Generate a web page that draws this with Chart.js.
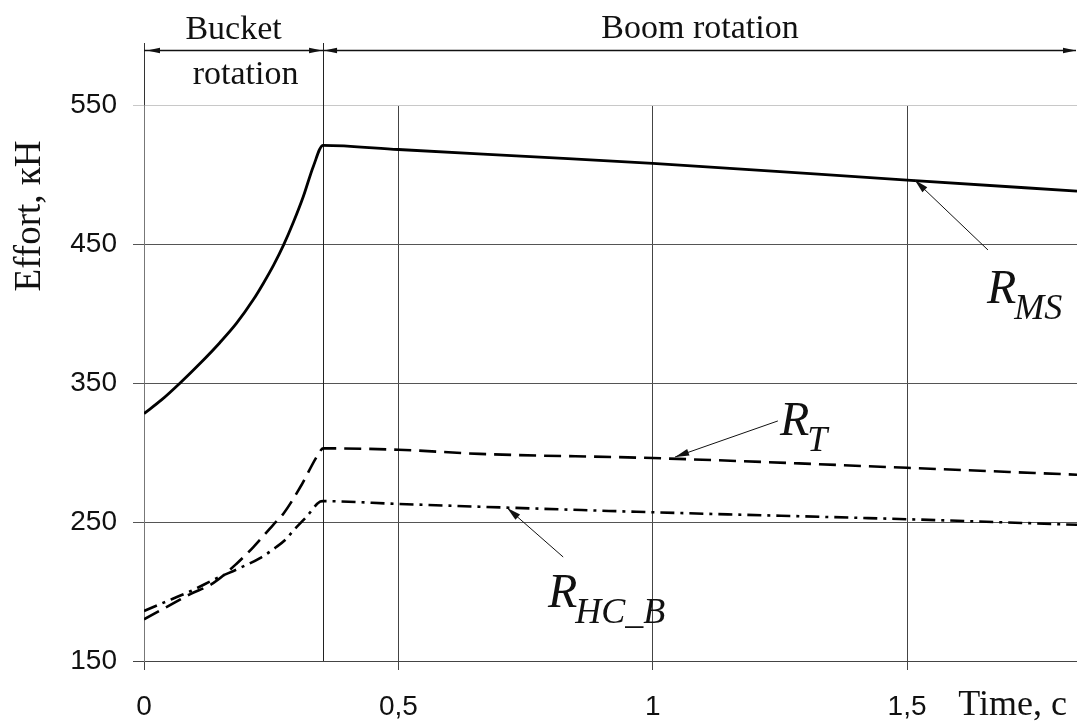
<!DOCTYPE html>
<html>
<head>
<meta charset="utf-8">
<script src="https://cdn.jsdelivr.net/npm/chart.js@4.4.1/dist/chart.umd.min.js"></script>
<style>
  html, body { margin: 0; padding: 0; background: #fff; }
  #wrap { width: 1077px; height: 725px; }
</style>
</head>
<body>
<div id="wrap"><canvas id="chart" width="1077" height="725"></canvas></div>
<script>
// Main support reaction R_MS, kN
const timeMS   = [0, 0.035, 0.071, 0.11, 0.149, 0.182, 0.215, 0.235, 0.255, 0.274, 0.294, 0.313, 0.333, 0.352, 0.5, 0.75, 1.0, 1.25, 1.5, 1.834];
const effortMS = [328, 338, 350, 364, 379, 393, 410, 422, 435, 449, 466, 484, 506, 521, 518, 513, 508, 502, 496, 488];

// Traction force R_T, kN
const timeT   = [0, 0.045, 0.09, 0.136, 0.182, 0.215, 0.254, 0.274, 0.307, 0.343, 0.352, 0.5, 0.66, 1.0, 1.5, 1.834];
const effortT = [180, 189, 198, 206, 220, 232, 248, 256, 275, 299, 303, 302, 299, 296, 289, 284];

// Bucket hydraulic cylinder force R_HC_B, kN
const timeHC   = [0, 0.045, 0.09, 0.143, 0.189, 0.228, 0.26, 0.28, 0.294, 0.32, 0.346, 0.352, 0.5, 0.66, 1.0, 1.5, 1.834];
const effortHC = [186, 193, 200, 209.5, 217, 224, 232, 238, 244, 254, 264.6, 265, 263, 261, 257, 252, 248];

// Axis ticks and phases
const xTickValues = [0, 0.5, 1, 1.5];
const yTickValues = [150, 250, 350, 450, 550];
const timeMax = 1.834;
const bucketEnd = 0.352;
const phaseBucket = ['Bucket', 'rotation'];
const phaseBoom = 'Boom rotation';
const yTitle = 'Effort, кН';
const xTitle = 'Time, c';

// Callouts: label main letter + subscript, arrow tip and tail in data units
const callouts = [
  { main: 'R', sub: 'MS',   tip: [1.515, 496.0], tail: [1.659, 445.7], at: [1.657, 407.6] },
  { main: 'R', sub: 'T',    tip: [1.044, 296.8], tail: [1.246, 322.7], at: [1.250, 312.6] },
  { main: 'R', sub: 'HC_B', tip: [0.714, 260.1], tail: [0.824, 224.8], at: [0.794, 188.8] }
];

const toXY = (xs, ys) => xs.map((x, i) => ({ x: x, y: ys[i] }));

function arrowHead(ctx, x1, y1, x2, y2, len, half) {
  const a = Math.atan2(y2 - y1, x2 - x1);
  ctx.beginPath();
  ctx.moveTo(x2, y2);
  ctx.lineTo(x2 - len * Math.cos(a) + half * Math.sin(a), y2 - len * Math.sin(a) - half * Math.cos(a));
  ctx.lineTo(x2 - len * Math.cos(a) - half * Math.sin(a), y2 - len * Math.sin(a) + half * Math.cos(a));
  ctx.closePath();
  ctx.fill();
}

const decorations = {
  id: 'decorations',
  beforeDatasetsDraw(chart) {
    const { ctx, chartArea: ca, scales: { x } } = chart;
    const xb = Math.round(x.getPixelForValue(bucketEnd)) + 0.5;
    const x0 = Math.round(x.getPixelForValue(0)) + 0.5;
    ctx.save();
    ctx.lineWidth = 1;
    // phase boundary and extended left axis
    ctx.strokeStyle = '#222';
    ctx.beginPath(); ctx.moveTo(xb, 43); ctx.lineTo(xb, ca.bottom); ctx.stroke();
    ctx.strokeStyle = '#333';
    ctx.beginPath(); ctx.moveTo(x0, 43); ctx.lineTo(x0, ca.top); ctx.stroke();
    ctx.restore();
  },
  afterDraw(chart) {
    const { ctx, chartArea: ca, scales: { x, y } } = chart;
    const x0 = x.getPixelForValue(0);
    const xb = x.getPixelForValue(bucketEnd);
    const xr = ca.right - 1;
    const ay = 50.5;
    ctx.save();
    ctx.fillStyle = '#111';
    ctx.strokeStyle = '#111';
    // phase dimension arrows
    ctx.lineWidth = 1.5;
    ctx.beginPath(); ctx.moveTo(x0, ay); ctx.lineTo(xr, ay); ctx.stroke();
    arrowHead(ctx, x0 + 20, ay, x0 + 3, ay, 13, 2.8);
    arrowHead(ctx, xb - 20, ay, xb - 1, ay, 13, 2.8);
    arrowHead(ctx, xb + 20, ay, xb + 1, ay, 13, 2.8);
    arrowHead(ctx, xr - 20, ay, xr, ay, 13, 2.8);

    // phase names
    ctx.font = '34px "Liberation Serif"';
    ctx.textAlign = 'center';
    ctx.textBaseline = 'alphabetic';
    const mb = (x0 + xb) / 2;
    ctx.fillText(phaseBucket[0], mb, 39);
    ctx.fillText(phaseBucket[1], mb + 12, 84);
    ctx.fillText(phaseBoom, (xb + ca.right) / 2, 38);

    // axis titles
    ctx.font = '37px "Liberation Serif"';
    ctx.save();
    ctx.translate(40, 216);
    ctx.rotate(-Math.PI / 2);
    ctx.textAlign = 'center';
    ctx.fillText(yTitle, 0, 0);
    ctx.restore();
    ctx.font = '36px "Liberation Serif"';
    ctx.textAlign = 'right';
    ctx.fillText(xTitle, ca.right - 10, 715);

    // callouts
    ctx.lineWidth = 1;
    callouts.forEach(c => {
      const tx = x.getPixelForValue(c.tip[0]), ty = y.getPixelForValue(c.tip[1]);
      const sx = x.getPixelForValue(c.tail[0]), sy = y.getPixelForValue(c.tail[1]);
      ctx.beginPath(); ctx.moveTo(sx, sy); ctx.lineTo(tx, ty); ctx.stroke();
      arrowHead(ctx, sx, sy, tx, ty, 14, 3.5);
      const lx = x.getPixelForValue(c.at[0]), ly = y.getPixelForValue(c.at[1]);
      ctx.textAlign = 'left';
      ctx.font = 'italic 48px "Liberation Serif"';
      ctx.fillText(c.main, lx, ly);
      const w = ctx.measureText(c.main).width;
      ctx.font = 'italic 36px "Liberation Serif"';
      ctx.fillText(c.sub, lx + w - 2, ly + 16);
    });
    ctx.restore();
  }
};

const tickFont = { family: '"Liberation Sans", Arial, sans-serif', size: 28 };

new Chart(document.getElementById('chart'), {
  type: 'line',
  data: {
    datasets: [
      { label: 'R_MS', data: toXY(timeMS, effortMS), borderColor: '#000', borderWidth: 2.8, pointRadius: 0, cubicInterpolationMode: 'monotone', fill: false },
      { label: 'R_T', data: toXY(timeT, effortT), borderColor: '#000', borderWidth: 2.6, borderDash: [17, 8], pointRadius: 0, cubicInterpolationMode: 'monotone', fill: false },
      { label: 'R_HC_B', data: toXY(timeHC, effortHC), borderColor: '#000', borderWidth: 2.6, borderDash: [14, 6, 3, 6], pointRadius: 0, cubicInterpolationMode: 'monotone', fill: false }
    ]
  },
  options: {
    responsive: false,
    animation: false,
    events: [],
    layout: { padding: { top: 105, right: 0, left: 0, bottom: 0 } },
    plugins: { legend: { display: false }, tooltip: { enabled: false }, title: { display: false } },
    scales: {
      x: {
        type: 'linear',
        min: 0,
        max: timeMax,
        afterFit(s) { s.height = 64; },
        afterBuildTicks(s) { s.ticks = xTickValues.map(v => ({ value: v })); },
        ticks: {
          font: tickFont,
          color: '#111',
          padding: 20,
          maxRotation: 0,
          autoSkip: false,
          callback: v => String(v).replace('.', ',')
        },
        grid: { color: '#444', lineWidth: 1, tickLength: 9, drawTicks: true },
        border: { display: true, color: '#444', width: 1 }
      },
      y: {
        type: 'linear',
        min: 150,
        max: 550,
        afterFit(s) { s.width = 144; },
        afterBuildTicks(s) { s.ticks = yTickValues.map(v => ({ value: v })); },
        ticks: { font: tickFont, color: '#111', padding: 16 },
        grid: {
          color: c => (c.tick && c.tick.value === 550) ? '#c8c8c8' : (c.tick && c.tick.value === 150 ? '#444' : '#555'),
          lineWidth: 1,
          tickLength: 11,
          drawTicks: true
        },
        border: { display: true, color: '#777', width: 1 }
      }
    }
  },
  plugins: [decorations]
});
</script>
</body>
</html>
